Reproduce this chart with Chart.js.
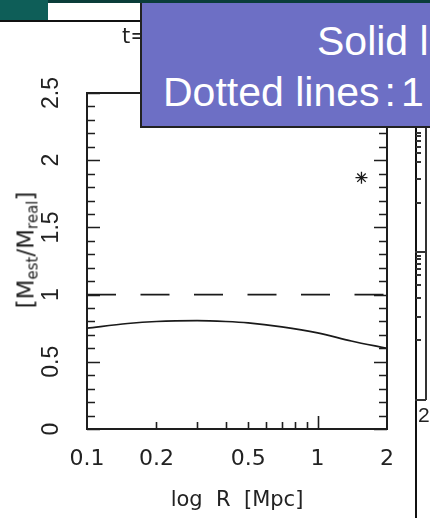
<!DOCTYPE html>
<html lang="en">
<head>
<meta charset="UTF-8">
<title>Mest / Mreal vs R</title>
<script src="https://cdn.jsdelivr.net/npm/chart.js"></script>
<style>
  body { margin: 0; background: #fff; }
  .wrap { position: relative; width: 430px; height: 518px; overflow: hidden; background: #fff; font-family: 'DejaVu Sans', sans-serif; }
  canvas { position: absolute; left: 0; top: 0; }
  .abs { position: absolute; }
  .ytitle { left: 27px; top: 250px; transform: translate(-50%, -50%) rotate(-90deg); font-size: 23px; color: #222; white-space: nowrap; }
  .ytitle sub { font-size: 15px; vertical-align: -4px; }
  .box { left: 140px; top: 3px; width: 300px; height: 123px; background: #6d6fc5; border-left: 2px solid #222; border-bottom: 2px solid #222; }
  .box div { position: absolute; color: #fff; font-family: 'Liberation Sans', Arial, sans-serif; font-size: 41px; white-space: nowrap; line-height: 1; }
</style>
</head>
<body>
<div class="wrap">
  <canvas id="chart" width="430" height="518"></canvas>

  <div class="abs ytitle">[M<sub>est</sub>/M<sub>real</sub>]</div>

  <!-- slide pieces around the figure -->
  <div class="abs" style="left:0;top:0;width:430px;height:3px;background:#0a3d3a"></div>
  <div class="abs" style="left:0;top:0;width:48px;height:20px;background:#0e5e58"></div>
  <div class="abs" style="left:0;top:20px;width:140px;height:2px;background:#111"></div>
  <div class="abs" style="left:122px;top:24px;font-size:21px;color:#222">t=</div>

  <div class="abs" style="left:415px;top:125px;width:1.5px;height:393px;background:#111"></div>
  <div class="abs" style="left:425px;top:125px;width:1.5px;height:275px;background:#333"></div>
  <div class="abs" style="left:415px;top:399px;width:11px;height:1.5px;background:#333"></div>
  <div class="abs" style="left:415px;top:251px;width:11px;height:1.5px;background:#333"></div>
  <div id="rticks"></div>
  <div class="abs" style="left:418px;top:403px;font-family:'Liberation Sans',sans-serif;font-size:21px;color:#222">2</div>

  <div class="abs box">
    <div style="left:175px;top:18px">Solid l</div>
    <div style="left:21px;top:69px">Dotted lines<span style="margin:0 5px">:</span>1</div>
  </div>
</div>

<script>
// curve
const curveR = [0.1, 0.15, 0.2, 0.3, 0.4, 0.5, 0.7, 1.0, 1.4, 2.0];
const curveRatio = [0.75, 0.785, 0.8, 0.806, 0.8, 0.79, 0.76, 0.715, 0.655, 0.6];

// reference level and the single star point
const refR = [0.1, 2.0];
const refRatio = [1, 1];
const starR = [1.55];
const starRatio = [1.87];

// axes
const xLabels = [0.1, 0.2, 0.5, 1, 2];
const xMinor = [0.2, 0.3, 0.4, 0.5, 0.6, 0.7, 0.8, 0.9];
const xMajor = [1];
const yLabels = [0, 0.5, 1, 1.5, 2, 2.5];

// tick marks of the neighbour panel on the right
const sideTicks = [132, 135, 140, 146, 152, 161, 178, 202, 255, 258, 263, 268, 274, 284, 297, 316, 339];

const rt = document.getElementById('rticks');
sideTicks.forEach(y => {
  const d = document.createElement('div');
  d.className = 'abs';
  d.style.cssText = 'left:416px;top:' + y + 'px;width:5px;height:1.5px;background:#333';
  rt.appendChild(d);
});

const toPts = (xs, ys) => xs.map((x, i) => ({ x: x, y: ys[i] }));

const frameTicks = {
  id: 'frameTicks',
  afterDatasetsDraw(chart) {
    const { ctx, chartArea: a, scales } = chart;
    const x = scales.x, y = scales.y;
    ctx.save();
    ctx.strokeStyle = '#1e1e1e';
    ctx.lineWidth = 2;
    ctx.strokeRect(a.left, a.top, a.right - a.left, a.bottom - a.top);
    ctx.lineWidth = 1.6;
    ctx.beginPath();
    // y ticks every 0.1 both sides, longer at every 0.5
    for (let i = 0; i <= 25; i++) {
      const py = Math.round(y.getPixelForValue(i / 10)) + 0.5;
      const len = i % 5 === 0 ? 13 : 8;
      ctx.moveTo(a.left, py); ctx.lineTo(a.left + len, py);
      ctx.moveTo(a.right, py); ctx.lineTo(a.right - len, py);
    }
    xMinor.forEach(v => {
      const px = Math.round(x.getPixelForValue(v)) + 0.5;
      ctx.moveTo(px, a.bottom); ctx.lineTo(px, a.bottom - 7);
    });
    xMajor.forEach(v => {
      const px = Math.round(x.getPixelForValue(v)) + 0.5;
      ctx.moveTo(px, a.bottom); ctx.lineTo(px, a.bottom - 13);
    });
    ctx.stroke();
    ctx.restore();
  }
};

new Chart(document.getElementById('chart'), {
  type: 'line',
  data: {
    datasets: [
      {
        data: toPts(curveR, curveRatio),
        borderColor: '#1a1a1a',
        borderWidth: 1.7,
        pointRadius: 0,
        cubicInterpolationMode: 'monotone'
      },
      {
        data: toPts(refR, refRatio),
        borderColor: '#1a1a1a',
        borderWidth: 1.7,
        borderDash: [29, 24.5],
        pointRadius: 0
      },
      {
        data: toPts(starR, starRatio),
        showLine: false,
        pointStyle: 'star',
        pointRadius: 6,
        borderColor: '#1a1a1a',
        borderWidth: 1.3
      }
    ]
  },
  options: {
    responsive: false,
    animation: false,
    layout: { padding: { left: 0, top: 93, right: 43, bottom: 0 } },
    plugins: { legend: { display: false }, tooltip: { enabled: false } },
    scales: {
      x: {
        type: 'logarithmic',
        min: 0.1,
        max: 2,
        grid: { display: false },
        border: { display: false },
        afterBuildTicks: s => { s.ticks = xLabels.map(v => ({ value: v })); },
        afterFit: s => { s.height = 89; },
        ticks: {
          autoSkip: false,
          maxRotation: 0,
          padding: 9,
          color: '#222',
          font: { family: 'DejaVu Sans', size: 22 },
          callback: v => String(v)
        },
        title: {
          display: true,
          text: 'log  R  [Mpc]',
          color: '#222',
          font: { family: 'DejaVu Sans', size: 21 },
          padding: { top: 0, bottom: 5 }
        }
      },
      y: {
        min: 0,
        max: 2.5,
        grid: { display: false },
        border: { display: false },
        afterBuildTicks: s => { s.ticks = yLabels.map(v => ({ value: v })); },
        afterFit: s => { s.width = 87; },
        ticks: {
          minRotation: 90,
          maxRotation: 90,
          crossAlign: 'center',
          padding: 11,
          color: '#222',
          font: { family: 'Liberation Sans', size: 23 },
          callback: v => String(v)
        }
      }
    }
  },
  plugins: [frameTicks]
});
</script>
</body>
</html>
